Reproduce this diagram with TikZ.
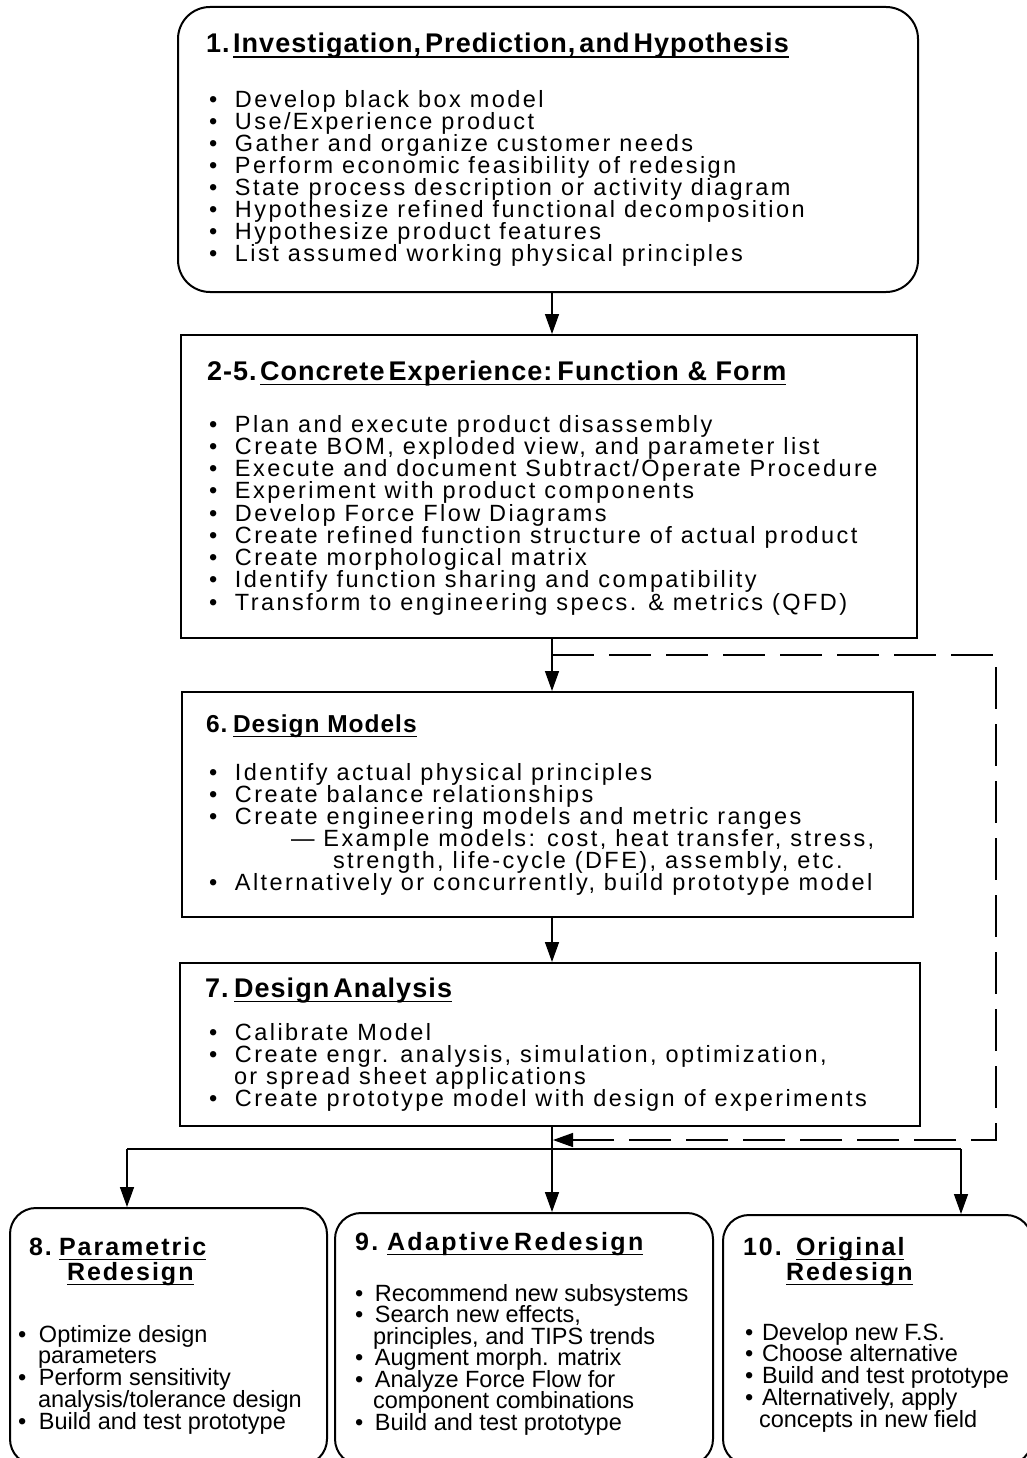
\documentclass[tikz,border=0pt]{standalone}
\usepackage{fontspec}
\setmainfont{Liberation Sans}
\newfontfamily\topbody[LetterSpace=10.3]{Liberation Sans}
\newfontfamily\toptitle[LetterSpace=4]{Liberation Sans}
\newfontfamily\bottitle[LetterSpace=8]{Liberation Sans}
\newfontfamily\bottitlew[LetterSpace=9.5]{Liberation Sans}
\usetikzlibrary{arrows.meta}
\newdimen\bw
\newcommand\ulw[1]{\setbox0=\hbox{#1}\rlap{\vrule height -3.5pt depth 5pt width \wd0}\box0}
\newcommand\lns[2]{\vtop{\baselineskip=#1\lineskiplimit=-1000pt\lineskip=0pt #2}}
\newcommand\bl[1]{\hbox{\hbox to \bw{•\hss}#1}}
\newcommand\cl[2]{\hbox{\hskip#1#2}}
\newcommand\TB{\topbody\fontsize{23.5}{22}\selectfont}
\newcommand\TT{\toptitle\bfseries\fontsize{27}{27}\selectfont}
\newcommand\BB{\fontsize{23.5}{21.75}\selectfont}
\newcommand\BT{\bottitle\bfseries\fontsize{25}{25}\selectfont}
\begin{document}
\begin{tikzpicture}[x=1pt,y=-1pt,
  rbox/.style={draw, line width=2pt, rounded corners=32pt, inner sep=0pt},
  sbox/.style={draw, line width=2pt, rounded corners=26pt, inner sep=0pt},
  rect/.style={draw, line width=2pt, inner sep=0pt},
  txt/.style={anchor=base west, inner sep=0pt, outer sep=0pt},
  conn/.style={line width=1.5pt, -{Triangle[length=20pt,width=14pt]}},
  plain/.style={line width=1.5pt},
  dashline/.style={line width=1.5pt, dash pattern=on 42pt off 15pt, -{Triangle[length=20pt,width=14pt]}}]
\useasboundingbox (0,0) rectangle (1026,1458);
\fill[white] (0,0) rectangle (1026,1458);

% boxes
\node[rbox, minimum width=740pt, minimum height=285pt] (b1) at (548,149.5) {};
\node[rect, minimum width=736pt, minimum height=303pt] (b2) at (549,486.5) {};
\node[rect, minimum width=731pt, minimum height=225pt] (b3) at (547.5,804.5) {};
\node[rect, minimum width=740pt, minimum height=163pt] (b4) at (550,1044.5) {};
\node[sbox, minimum width=317pt, minimum height=257pt] (b8) at (168.5,1336.5) {};
\node[sbox, minimum width=378pt, minimum height=252pt] (b9) at (524,1339) {};
\node[sbox, minimum width=309pt, minimum height=250pt] (b10) at (877.5,1340) {};

% box 1
\node[txt] (b1t) at (206,53) {\TT\hbox to 27pt{1.\hss}\ulw{Investigation,\hskip4pt Prediction,\hskip4pt and\hskip4pt Hypothesis}};
\node[txt] (b1l) at (209,108) {\TB\bw=26pt\lns{22pt}{%
\bl{Develop black box model}
\bl{Use/Experience product}
\bl{Gather and organize customer needs}
\bl{Perform economic feasibility of redesign}
\bl{State process description or activity diagram}
\bl{Hypothesize refined functional decomposition}
\bl{Hypothesize product features}
\bl{List assumed working physical principles}}};

% box 2
\node[txt] (b2t) at (207,380) {\TT\hbox to 53pt{2-5.\hss}\ulw{Concrete\hskip4pt Experience:\hskip5pt Function \& Form}};
\node[txt] (b2l) at (209,432) {\TB\bw=26pt\lns{22.25pt}{%
\bl{Plan and execute product disassembly}
\bl{Create BOM, exploded view, and parameter list}
\bl{Execute and document Subtract/Operate Procedure}
\bl{Experiment with product components}
\bl{Develop Force Flow Diagrams}
\bl{Create refined function structure of actual product}
\bl{Create morphological matrix}
\bl{Identify function sharing and compatibility}
\bl{Transform to engineering specs. \& metrics (QFD)}}};

% box 3
\node[txt] (b3t) at (206,732) {\toptitle\bfseries\fontsize{24.5}{25}\selectfont\hbox to 27pt{6.\hss}\ulw{Design Models}};
\node[txt] (b3l) at (209,780) {\TB\bw=26pt\lns{22pt}{%
\bl{Identify actual physical principles}
\bl{Create balance relationships}
\bl{Create engineering models and metric ranges}
\cl{82pt}{— Example models: cost, heat transfer, stress,}
\cl{124pt}{strength, life-cycle (DFE), assembly, etc.}
\bl{Alternatively or concurrently, build prototype model}}};

% box 4
\node[txt] (b4t) at (205,997) {\TT\hbox to 29pt{7.\hss}\ulw{Design\hskip4pt Analysis}};
\node[txt] (b4l) at (209,1040) {\TB\bw=26pt\lns{22pt}{%
\bl{Calibrate Model}
\bl{Create engr. analysis, simulation, optimization,}
\cl{25pt}{or spread sheet applications}
\bl{Create prototype model with design of experiments}}};

% box 8
\node[txt] (b8t) at (29,1255) {\BT\lns{25pt}{%
\hbox{\hbox to 30pt{8.\hss}\ulw{Parametric}}
\hbox{\hskip38pt\ulw{Redesign}}}};
\node[txt] (b8l) at (18,1342) {\BB\bw=21pt\lns{21.75pt}{%
\bl{Optimize design}
\cl{20pt}{parameters}
\bl{Perform sensitivity}
\cl{20pt}{analysis/tolerance design}
\bl{Build and test prototype}}};

% box 9
\node[txt] (b9t) at (355,1250) {\bottitlew\bfseries\fontsize{25}{25}\selectfont\hbox to 32pt{9.\hss}\ulw{Adaptive\hskip5pt Redesign}};
\node[txt] (b9l) at (355,1301) {\BB\bw=20pt\lns{21.5pt}{%
\bl{Recommend new subsystems}
\bl{Search new effects,}
\cl{18pt}{principles, and TIPS trends}
\bl{Augment morph. matrix}
\bl{Analyze Force Flow for}
\cl{18pt}{component combinations}
\bl{Build and test prototype}}};

% box 10
\node[txt] (b10t) at (743,1255) {\BT\lns{25pt}{%
\hbox{\hbox to 53pt{10.\hss}\ulw{Original}}
\hbox{\hskip43pt\ulw{Redesign}}}};
\node[txt] (b10l) at (745,1340) {\BB\bw=17pt\lns{21.75pt}{%
\bl{Develop new F.S.}
\bl{Choose alternative}
\bl{Build and test prototype}
\bl{Alternatively, apply}
\cl{14pt}{concepts in new field}}};

% connectors
\coordinate (cx) at (552,0);
\coordinate (dS) at (552,655);
\coordinate (dX) at (996,0);
\coordinate (dE) at (553,1140);
\coordinate (jL) at (127,1149);
\coordinate (jM) at (552,1149);
\coordinate (jR) at (961,1149);

\draw[conn] (b1.south -| cx) -- (b2.north -| cx);
\draw[conn] (b2.south -| cx) -- (b3.north -| cx);
\draw[conn] (b3.south -| cx) -- (b4.north -| cx);
\draw[dashline] (dS) -- (dS -| dX) -- (dX |- dE) -- (dE);
\draw[conn] (b4.south -| cx) -- (b9.north -| cx);
\draw[plain] (jL) -- (jR);
\draw[conn] (jL) -- (jL |- b8.north);
\draw[conn] (jR) -- (jR |- b10.north);
\end{tikzpicture}
\end{document}
